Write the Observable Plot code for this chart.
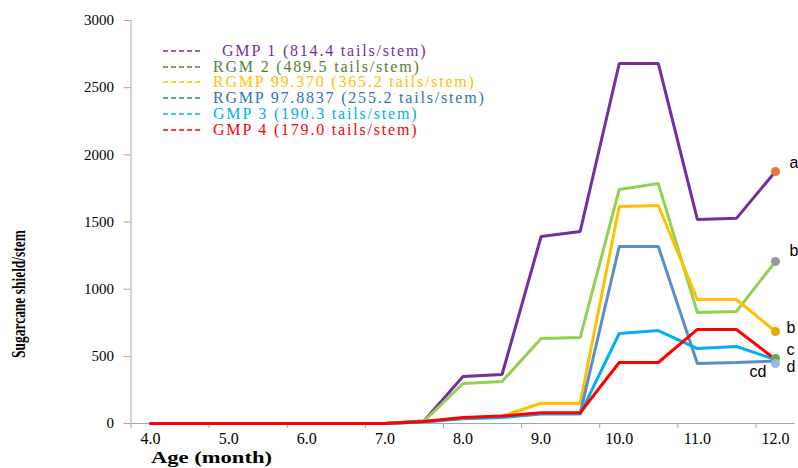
<!DOCTYPE html>
<html><head><meta charset="utf-8">
<script src="https://cdn.jsdelivr.net/npm/d3@7"></script>
<script src="https://cdn.jsdelivr.net/npm/@observablehq/plot@0.6"></script>
<style>
body{margin:0;background:#fff;}
#wrap{position:relative;width:798px;height:468px;overflow:hidden;}
.leg{position:absolute;left:163px;height:16px;font-family:"Liberation Serif",serif;font-size:16px;letter-spacing:1.8px;white-space:nowrap;display:flex;align-items:center;}
.leg svg{margin-right:10px;}
</style></head><body><div id="wrap"></div>
<script>
// ---- data ----
const months = [4, 4.5, 5, 5.5, 6, 6.5, 7, 7.5, 8, 8.5, 9, 9.5, 10, 10.5, 11, 11.5, 12];
const seriesNames = ["GMP 1 (814.4 tails/stem)", "RGM 2 (489.5 tails/stem)", "RGMP 99.370 (365.2 tails/stem)", "RGMP 97.8837 (255.2 tails/stem)", "GMP 3 (190.3 tails/stem)", "GMP 4 (179.0 tails/stem)"];
const gmp1     = [0, 0, 0, 0, 0, 0, 0, 18, 350, 365, 1392, 1430, 2680, 2680, 1519, 1527, 1876];
const rgm2     = [0, 0, 0, 0, 0, 0, 0, 18, 298, 313, 633, 640, 1742, 1787, 826, 834, 1206];
const rgmp99   = [0, 0, 0, 0, 0, 0, 0, 12, 40, 55, 151, 151, 1615, 1623, 923, 923, 685];
const rgmp97   = [0, 0, 0, 0, 0, 0, 0, 15, 40, 50, 75, 75, 1318, 1318, 447, 454, 465];
const gmp3     = [0, 0, 0, 0, 0, 0, 0, 12, 35, 45, 70, 70, 670, 692, 558, 573, 476];
const gmp4     = [0, 0, 0, 0, 0, 0, 0, 15, 45, 55, 80, 80, 454, 454, 700, 700, 476];
const endDotValues = [1876, 1206, 685, 484, 447];
const endDotLabels = ["a", "b", "b", "c", "d"];
const extraLabel = "cd";
const yTicks = [0, 500, 1000, 1500, 2000, 2500, 3000];
const xTickLabels = [4, 5, 6, 7, 8, 9, 10, 11, 12];

// ---- styles ----
const lineColors = ["#7030A0", "#92D050", "#FFC000", "#5B8EC9", "#00B0F0", "#FF0000"];
const legendColors = ["#7030A0", "#548235", "#FFC000", "#2E75B6", "#00B0F0", "#FF0000"];
const dotColors = ["#E07B39", "#9A9A9A", "#E0A800", "#6AA84F", "#9FB4E0"];
const labelOffsets = [[14, -9], [14, -11], [11, -4], [11, -9], [11, 3]];

const allSeries = [gmp1, rgm2, rgmp99, rgmp97, gmp3, gmp4];
const lineData = allSeries.flatMap((vals, i) => months.map((m, j) => ({month: m, value: vals[j], s: i})));
const dotData = endDotValues.map((v, i) => ({month: months[months.length - 1], value: v, i, label: endDotLabels[i]}));
const xMinorTicks = d3.range(3.75, 12.0, 1);

const plot = Plot.plot({
  width: 798, height: 468,
  marginLeft: 130.5, marginRight: 3.5, marginTop: 20, marginBottom: 45,
  x: {domain: [3.75, 12.25]},
  y: {domain: [0, 3000]},
  style: {fontFamily: "'Liberation Serif', serif", fontSize: "15px", color: "#000", background: "#fff"},
  marks: [
    Plot.ruleX([3.75], {stroke: "#A6A6A6"}),
    Plot.ruleY([0], {stroke: "#A6A6A6"}),
    Plot.axisY({ticks: yTicks, tickSize: 7, tickPadding: 10, tickFormat: d => String(d), stroke: "#A6A6A6", fill: "#000", label: null, style: "letter-spacing:2px"}),
    Plot.axisX({ticks: xMinorTicks, tickSize: 5, tickFormat: () => "", stroke: "#A6A6A6", label: null}),
    Plot.axisX({ticks: xTickLabels, tickSize: 0, tickPadding: 9, tickFormat: d => d.toFixed(1), fill: "#000", label: null, fontSize: 16, style: "letter-spacing:2px"}),
    ...allSeries.map((_, i) => Plot.line(lineData.filter(d => d.s === i), {x: "month", y: "value", stroke: lineColors[i], strokeWidth: 3, strokeLinejoin: "miter"})),
    Plot.dot(dotData, {x: "month", y: "value", r: 4.5, fill: d => dotColors[d.i], stroke: "none"}),
    ...dotData.map((d, i) => Plot.text([d], {x: "month", y: "value", text: "label", dx: labelOffsets[i][0], dy: labelOffsets[i][1], textAnchor: "start", fontFamily: "'Liberation Sans', sans-serif", fontSize: 16, fill: "#000"})),
    Plot.text([dotData[4]], {x: "month", y: "value", text: () => extraLabel, dx: -9, dy: 8, textAnchor: "end", fontFamily: "'Liberation Sans', sans-serif", fontSize: 16, fill: "#000"})
  ]
});

const svg = d3.select(plot);
svg.append("text").attr("transform", "translate(25,294) rotate(-90)").attr("text-anchor", "middle")
  .attr("font-family", "'Liberation Serif', serif").attr("font-weight", "bold").attr("font-size", 19)
  .attr("textLength", 128).attr("lengthAdjust", "spacingAndGlyphs")
  .attr("fill", "#000").text("Sugarcane shield/stem");
svg.append("text").attr("x", 151).attr("y", 463).attr("text-anchor", "start")
  .attr("font-family", "'Liberation Serif', serif").attr("font-weight", "bold").attr("font-size", 16)
  .attr("textLength", 121).attr("lengthAdjust", "spacingAndGlyphs")
  .attr("fill", "#000").text("Age (month)");

const wrap = document.getElementById("wrap");
wrap.appendChild(plot);
seriesNames.forEach((name, i) => {
  const row = document.createElement("div");
  row.className = "leg";
  row.style.top = (43 + i * 15.7) + "px";
  row.style.color = legendColors[i];
  row.innerHTML = `<svg width="40" height="4"><line x1="0" y1="2" x2="40" y2="2" stroke="${legendColors[i]}" stroke-width="1.5" stroke-dasharray="5,3"/></svg><span style="padding-left:${i === 0 ? 9 : 0}px">${name}</span>`;
  wrap.appendChild(row);
});
</script>
</body></html>
